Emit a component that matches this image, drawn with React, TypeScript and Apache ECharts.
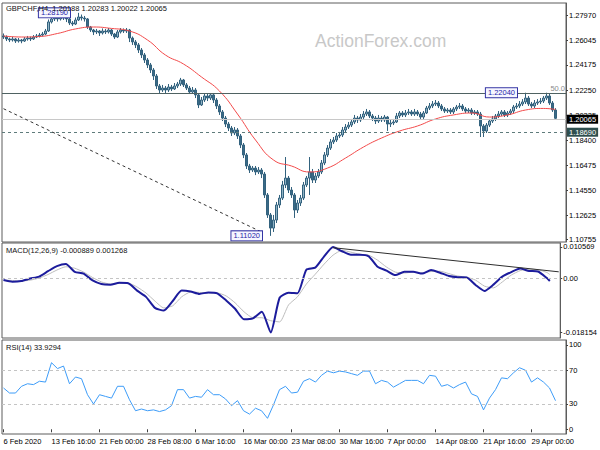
import React, { useEffect, useRef } from 'react';
import * as echarts from 'echarts';

// ---------- texts ----------
const SYMBOL = 'GBPCHF,H4';
const headerValues = ['1.20188', '1.20283', '1.20022', '1.20065'];
const macdTitle = 'MACD(12,26,9) -0.000889 0.001268';
const rsiTitle = 'RSI(14) 33.9294';
const watermark = 'ActionForex.com';

// ---------- x axis ----------
const dateLabels = [
  '6 Feb 2020', '13 Feb 16:00', '21 Feb 00:00', '28 Feb 08:00', '6 Mar 16:00', '16 Mar 00:00',
  '23 Mar 08:00', '30 Mar 16:00', '7 Apr 00:00', '14 Apr 08:00', '21 Apr 16:00', '29 Apr 00:00',
];
const LABEL_STEP = 16;
const SLOT_COUNT = 188;

// ---------- y axis ticks ----------
const priceTicks = [1.2797, 1.26045, 1.24175, 1.2225, 1.20325, 1.184, 1.16475, 1.1455, 1.12625, 1.10755];
const macdTicks = [0.010569, 0, -0.018154];
const rsiTicks = [100, 70, 30, 0];

// ---------- price candles: [open, close, low, high] in 1e-4 ----------
const candles: number[][] = [
  [12641,12633,12618,12660],[12633,12618,12602,12645],[12618,12610,12594,12628],[12610,12618,12598,12633],
  [12618,12602,12587,12625],[12602,12610,12590,12625],[12610,12602,12585,12618],[12602,12618,12595,12633],
  [12618,12625,12605,12641],[12625,12618,12602,12637],[12618,12633,12610,12648],[12633,12641,12625,12656],
  [12641,12648,12630,12664],[12648,12656,12637,12672],[12656,12679,12648,12695],[12679,12749,12672,12768],
  [12749,12772,12737,12790],[12772,12779,12756,12798],[12779,12772,12752,12794],[12772,12787,12760,12806],
  [12787,12779,12764,12802],[12779,12772,12748,12795],[12772,12741,12725,12783],[12741,12733,12718,12756],
  [12733,12764,12725,12783],[12764,12787,12756,12819],[12787,12779,12760,12806],[12779,12772,12752,12795],
  [12772,12710,12695,12779],[12710,12687,12672,12718],[12687,12672,12648,12695],[12672,12679,12656,12695],
  [12679,12664,12641,12687],[12664,12679,12652,12699],[12679,12672,12656,12695],[12672,12687,12660,12702],
  [12687,12656,12641,12695],[12656,12633,12618,12664],[12633,12672,12625,12687],[12672,12687,12660,12702],
  [12687,12679,12664,12699],[12679,12687,12664,12702],[12687,12625,12594,12695],[12625,12595,12572,12637],
  [12595,12572,12548,12610],[12572,12533,12510,12587],[12533,12495,12471,12548],[12495,12456,12433,12510],
  [12456,12418,12394,12471],[12418,12379,12356,12433],[12379,12333,12302,12394],[12333,12256,12233,12348],
  [12256,12225,12202,12271],[12225,12240,12210,12264],[12240,12225,12202,12256],[12225,12248,12210,12271],
  [12248,12233,12217,12264],[12233,12256,12225,12279],[12256,12271,12240,12287],[12271,12302,12256,12318],
  [12302,12264,12248,12310],[12264,12240,12225,12279],[12240,12210,12194,12256],[12210,12225,12194,12248],
  [12225,12187,12163,12240],[12187,12110,12086,12202],[12110,12148,12102,12171],[12148,12179,12133,12194],
  [12179,12163,12140,12194],[12163,12187,12148,12202],[12187,12148,12125,12202],[12148,12102,12079,12163],
  [12102,12056,12033,12117],[12056,12009,11986,12071],[12009,11963,11940,12025],[11963,11932,11909,11979],
  [11932,11894,11871,11948],[11894,11917,11878,11940],[11917,11871,11848,11932],[11871,11802,11778,11886],
  [11802,11725,11701,11817],[11725,11640,11617,11740],[11640,11609,11586,11656],[11609,11624,11594,11640],
  [11624,11594,11570,11640],[11594,11609,11578,11632],[11609,11578,11547,11624],[11578,11417,11394,11594],
  [11417,11263,11240,11432],[11263,11162,11102,11278],[11162,11224,11132,11263],[11224,11340,11201,11363],
  [11340,11393,11317,11417],[11393,11494,11378,11525],[11494,11547,11470,11709],[11547,11455,11432,11563],
  [11455,11417,11394,11478],[11417,11301,11240,11432],[11301,11355,11278,11378],[11355,11393,11332,11417],
  [11393,11494,11378,11517],[11494,11547,11478,11563],[11547,11594,11417,11709],[11594,11532,11509,11617],
  [11532,11563,11509,11586],[11563,11594,11547,11617],[11594,11663,11578,11686],[11663,11725,11647,11747],
  [11725,11778,11709,11801],[11778,11825,11763,11848],[11825,11840,11809,11863],[11840,11871,11825,11894],
  [11871,11879,11855,11902],[11879,11917,11863,11940],[11917,11940,11901,11963],[11940,11955,11925,11979],
  [11955,11979,11940,12002],[11979,12009,11963,12033],[12009,11994,11971,12025],[11994,12017,11979,12040],
  [12017,12040,12002,12063],[12040,12056,12025,12079],[12056,12025,12009,12071],[12025,12009,11986,12040],
  [12009,11986,11963,12025],[11986,12009,11971,12033],[12009,11994,11979,12025],[11994,12017,11979,12033],
  [12017,11963,11910,12025],[11963,11971,11940,11994],[11971,11979,11955,12002],[11979,12025,11971,12048],
  [12025,12048,12009,12063],[12048,12033,12017,12063],[12033,12048,12017,12071],[12048,12056,12033,12079],
  [12056,12040,12025,12071],[12040,12056,12025,12079],[12056,12040,12025,12071],[12040,12017,12002,12056],
  [12017,12048,12002,12063],[12048,12086,12040,12102],[12086,12102,12071,12125],[12102,12117,12086,12140],
  [12117,12125,12102,12148],[12125,12102,12086,12140],[12102,12079,12063,12117],[12079,12063,12048,12094],
  [12063,12071,12048,12086],[12071,12056,12040,12086],[12056,12079,12040,12094],[12079,12094,12063,12110],
  [12094,12102,12079,12125],[12102,12079,12063,12117],[12079,12063,12048,12094],[12063,12071,12048,12086],
  [12071,12048,12033,12086],[12048,12056,12033,12071],[12056,12040,12025,12071],[12040,11948,11863,12056],
  [11948,11909,11863,11963],[11909,11955,11894,11971],[11955,11986,11940,12002],[11986,12002,11971,12025],
  [12002,12025,11986,12040],[12025,12040,12009,12063],[12040,12056,12025,12071],[12056,12033,12017,12071],
  [12033,12048,12017,12063],[12048,12063,12033,12079],[12063,12094,12048,12110],[12094,12102,12079,12125],
  [12102,12117,12086,12140],[12117,12133,12102,12155],[12133,12163,12117,12204],[12163,12117,12102,12179],
  [12117,12102,12086,12133],[12102,12125,12086,12148],[12125,12133,12110,12155],[12133,12140,12117,12163],
  [12140,12163,12125,12179],[12163,12179,12148,12204],[12179,12125,12110,12194],[12125,12071,12056,12140],
  [12071,12007,12002,12085],
];

// moving average (1e-4), one value every MA_STEP candles, last one on the last candle
const MA_STEP = 6;
const maLine = [12641,12633,12637,12660,12695,12710,12699,12679,12610,12494,12425,12325,12217,12040,11840,11686,
  11640,11594,11624,11701,11786,11855,11909,11948,12002,12033,12048,12017,12033,12071,12083,12075];

// MACD (1e-4), one value every MACD_STEP candles
const MACD_STEP = 3;
const macdLine = [-5.7,-11,-9,-0.7,6,24,41,48,22,16,-7,-19,-21,-15,-16,-41,-62,-99,-108,-76,-41,-44,-52,-47,-50,
  -74,-102,-137,-134,-112,-181.5,-65,-48,-50,29,36,74,105.7,91,79,79,74,39,26,11,22,22,16,28,19,8,4,3,-22,-42,-21,
  6,21,33,25,23,1,-8.89];
const signalLine = [-6,-7,-9,-6,1,13,28,39,34,21,3,-12,-19,-17,-16,-29,-49,-76,-99,-92,-62,-46,-47,-49,-49,-59,
  -82,-112,-132,-132,-142,-146,-89,-62,-19,14,48,78,94,88,81,78,61,38,21,18,21,19,23,24,16,8,4,-6,-26,-32,-12,11,
  26,31,29,20,12.68];

// RSI, one value every RSI_STEP candles
const RSI_STEP = 2;
const rsiLine = [49,43,43,51,54,53,57,56,79,72,75,54,62,60,41,30,41,39,37,51,51,35,22,24,22,23,21,23,28,47,47,37,
  39,38,47,41,41,36,28,34,22,18,25,22,13,29,47,51,43,44,57,60,56,64,69,67,69,68,66,64,69,69,54,58,56,50,54,58,58,
  58,54,64,63,51,53,49,53,56,42,39,23,37,47,61,60,67,73,70,56,61,56,49,33.93];

// levels and annotations
const resistanceLevel = 1.2204;
const fiboLabel = '50.0';
const bidPrice = 1.20065;
const supportLevel = 1.1869;
const trendStart = [0, 1.2081];
const trendEnd = [86, 1.1132];
const priceNotes = [
  { index: 25, price: 1.2819 },
  { index: 89, price: 1.1102 },
  { index: 174, price: 1.2204 },
];
const macdTrendStart = [111, 0.0103];
const macdTrendEnd = [187, 0.0022];
const rsiLevels = [70, 30];

// ---------- option ----------
const FONT = '"Liberation Sans", Arial, sans-serif';
const FS = 7.5;
const P = (v: number) => v / 10000;
const categories = Array.from({ length: SLOT_COUNT }, (_, i) => String(i));
const lastIndex = candles.length - 1;
const pts = (arr: number[], step: number, scale: (v: number) => number) =>
  arr.map((v, k) => [Math.min(k * step, lastIndex), scale(v)]);

const GRID_BORDER = '#5c5c5c';
const showLabel = (index: number) => index % LABEL_STEP === 0 && index / LABEL_STEP < dateLabels.length;

function buildOption(): any {
  const titleStyle = { fontSize: FS, fontWeight: 'normal', color: '#111', fontFamily: FONT };
  const xAxis = [0, 1, 2].map((gi) => ({
    type: 'category',
    gridIndex: gi,
    data: categories,
    boundaryGap: true,
    axisLine: { show: false },
    axisTick: gi === 2
      ? { show: true, interval: (i: number) => showLabel(i), alignWithLabel: true, length: 3, lineStyle: { color: '#404040' } }
      : { show: false },
    axisLabel: gi === 2
      ? {
          show: true, interval: (i: number) => showLabel(i), align: 'left', margin: 3,
          formatter: (_v: string, i: number) => dateLabels[i / LABEL_STEP] ?? '',
          fontSize: FS, color: '#000', fontFamily: FONT,
        }
      : { show: false },
    splitLine: { show: false },
  }));
  const yBase = (gi: number, min: number, max: number, ticks: number[], fmt: (v: number) => string) => ({
    type: 'value', gridIndex: gi, position: 'right', min, max,
    splitLine: { show: false },
    axisLine: { show: true, lineStyle: { color: GRID_BORDER } },
    axisTick: { show: true, length: 2, customValues: ticks, lineStyle: { color: '#404040' } },
    axisLabel: { customValues: ticks, formatter: fmt, fontSize: FS, color: '#000', margin: 3, fontFamily: FONT },
  });
  const boxLabel = (text: string, bg: string) => ({
    show: true, position: 'end', formatter: text, color: '#fff', backgroundColor: bg,
    padding: [1, 2, 0, 2], distance: 1, fontSize: FS, fontFamily: FONT,
  });

  return {
    animation: false,
    backgroundColor: '#ffffff',
    textStyle: { fontFamily: FONT },
    title: [
      { text: `${SYMBOL}  ${headerValues.join(' ')}`, left: 6, top: 4, padding: 0, textStyle: titleStyle },
      { text: macdTitle, left: 6, top: 246, padding: 0, textStyle: titleStyle },
      { text: rsiTitle, left: 6, top: 343, padding: 0, textStyle: titleStyle },
    ],
    graphic: [
      {
        type: 'text', left: 315, top: 32, z: 0, silent: true,
        style: { text: watermark, fontSize: 17.5, fill: '#c8c8c8', fontFamily: FONT },
      },
    ],
    grid: [
      { left: 2, right: 34, top: 3, height: 239, show: true, borderColor: GRID_BORDER, borderWidth: 1 },
      { left: 2, right: 34, top: 243, height: 95, show: true, borderColor: GRID_BORDER, borderWidth: 1 },
      { left: 2, right: 34, top: 340, height: 94, show: true, borderColor: GRID_BORDER, borderWidth: 1 },
    ],
    xAxis,
    yAxis: [
      yBase(0, 1.10548, 1.28948, priceTicks, (v) => v.toFixed(5)),
      yBase(1, -0.02, 0.01187, macdTicks, (v) => (v === 0 ? '0.00' : v.toFixed(6))),
      yBase(2, -5.6, 105.9, rsiTicks, (v) => String(Math.round(v))),
    ],
    series: [
      {
        type: 'candlestick', name: SYMBOL, xAxisIndex: 0, yAxisIndex: 0, z: 3,
        data: candles.map((r) => r.map(P)),
        barWidth: 1.6,
        itemStyle: { color: '#8fb2c4', color0: '#3a6a86', borderColor: '#33627e', borderColor0: '#33627e', borderWidth: 1 },
        markLine: {
          silent: true, symbol: ['none', 'none'], animation: false,
          data: [
            {
              yAxis: resistanceLevel, lineStyle: { color: '#4f6262', type: 'solid', width: 1 },
              label: { show: true, position: 'insideEndTop', formatter: fiboLabel, color: '#8a8a8a', fontSize: FS, distance: 1, fontFamily: FONT },
            },
            { yAxis: bidPrice, lineStyle: { color: '#c8c8c8', type: 'solid', width: 1 }, label: boxLabel(bidPrice.toFixed(5), '#000000') },
            { yAxis: supportLevel, lineStyle: { color: '#5f7b7b', type: [3, 3], width: 1 }, label: boxLabel(supportLevel.toFixed(5), '#2f4f4f') },
            [
              { coord: trendStart, lineStyle: { color: '#333333', type: [3, 3], width: 1 }, label: { show: false } },
              { coord: trendEnd },
            ],
          ],
        },
        markPoint: {
          silent: true, symbol: 'rect', symbolSize: 1, itemStyle: { color: 'rgba(0,0,0,0)' },
          label: {
            show: true, position: 'left', distance: 8, formatter: '{b}', color: '#2424a8',
            backgroundColor: '#f6f6ff', borderColor: '#3434a4', borderWidth: 1, padding: [1, 2, 0, 2],
            fontSize: FS, fontFamily: FONT,
          },
          data: priceNotes.map((n) => ({ name: n.price.toFixed(5), coord: [n.index, n.price] })),
        },
      },
      {
        type: 'line', name: 'MA', xAxisIndex: 0, yAxisIndex: 0, z: 4,
        data: pts(maLine, MA_STEP, P), smooth: true, symbol: 'none',
        lineStyle: { color: '#f24a4a', width: 1 },
      },
      {
        type: 'line', name: 'Signal', xAxisIndex: 1, yAxisIndex: 1, z: 2,
        data: pts(signalLine, MACD_STEP, P), smooth: 0.2, symbol: 'none',
        lineStyle: { color: '#bdbdbd', width: 1 },
      },
      {
        type: 'line', name: 'MACD', xAxisIndex: 1, yAxisIndex: 1, z: 3,
        data: pts(macdLine, MACD_STEP, P), smooth: 0.2, symbol: 'none',
        lineStyle: { color: '#1c1c9c', width: 2 },
        markLine: {
          silent: true, symbol: ['none', 'none'], animation: false, label: { show: false },
          data: [
            { yAxis: 0, lineStyle: { color: '#c4c4c4', type: [3, 3], width: 1 } },
            [
              { coord: macdTrendStart, lineStyle: { color: '#2e2e2e', type: 'solid', width: 1 } },
              { coord: macdTrendEnd },
            ],
          ],
        },
      },
      {
        type: 'line', name: 'RSI', xAxisIndex: 2, yAxisIndex: 2, z: 3,
        data: pts(rsiLine, RSI_STEP, (v) => v), symbol: 'none',
        lineStyle: { color: '#3d9cf8', width: 1 },
        markLine: {
          silent: true, symbol: ['none', 'none'], animation: false, label: { show: false },
          data: rsiLevels.map((v) => ({ yAxis: v, lineStyle: { color: '#c4c4c4', type: [3, 3], width: 1 } })),
        },
      },
    ],
  };
}

export default function App() {
  const ref = useRef<HTMLDivElement>(null);
  useEffect(() => {
    if (!ref.current) return;
    const chart = echarts.init(ref.current, null, { renderer: 'svg' });
    chart.setOption(buildOption());
    return () => chart.dispose();
  }, []);
  return (
    <div
      ref={ref}
      style={{ position: 'fixed', left: 0, top: 0, width: 600, height: 450, background: '#ffffff' }}
    />
  );
}
